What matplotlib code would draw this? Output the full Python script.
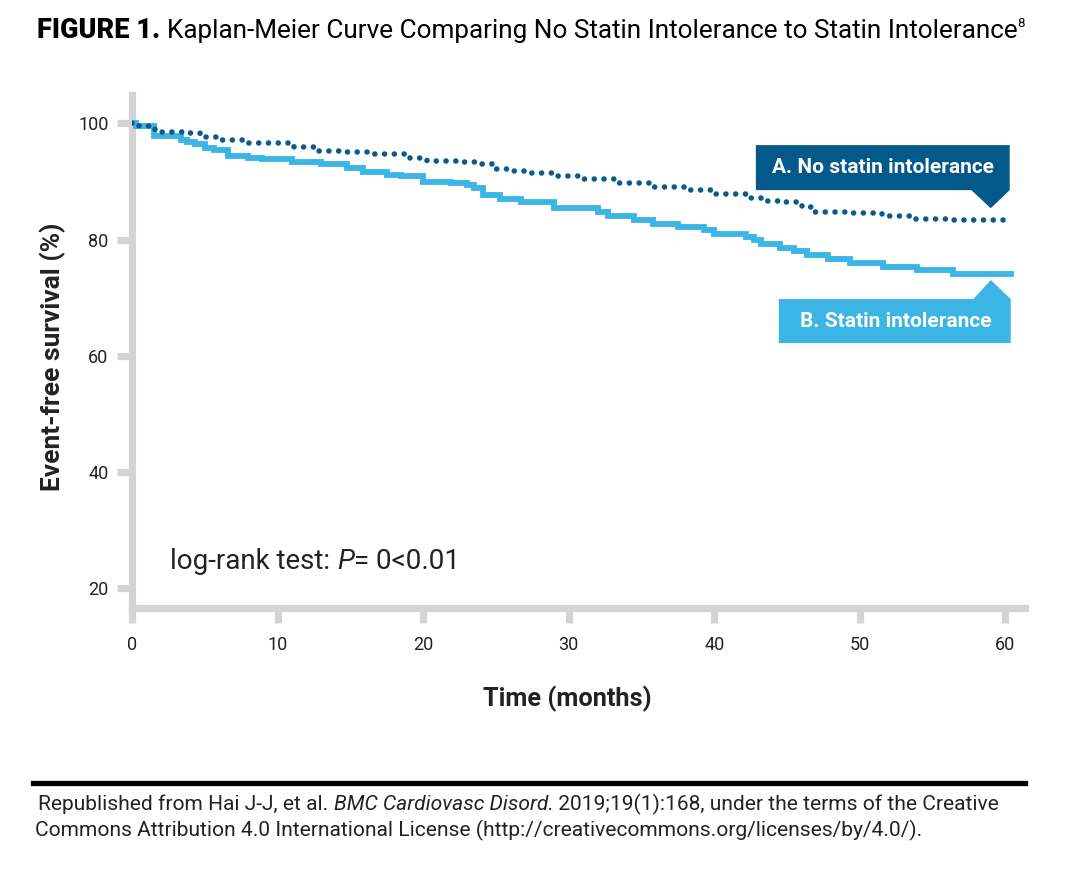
import matplotlib
matplotlib.use("Agg")
import matplotlib.pyplot as plt
from matplotlib.patches import Polygon
import numpy as np

plt.rcParams["font.family"] = ["Roboto", "DejaVu Sans"]

# Curve data (months, event-free survival %)
t_no_intol = [0, 0.5, 1.2, 1.6, 2.9, 3.6, 4.7, 5.9, 8.0, 11.1, 12.8, 14.5, 16.2,
              19.1, 20.3, 22.4, 23.6, 24.8, 26.0, 27.2, 29.0, 30.8, 33.4, 35.6,
              38.2, 40.0, 42.4, 43.2, 44.5, 46.0, 46.8, 49.3, 51.5, 53.5, 56.4, 60.3]
s_no_intol = [100, 99.6, 99.0, 98.6, 98.6, 98.3, 97.6, 97.1, 96.7, 95.9, 95.3, 95.0, 94.8,
              94.1, 93.6, 93.4, 93.1, 92.2, 91.8, 91.4, 90.9, 90.5, 89.8, 89.1,
              88.6, 87.9, 87.2, 86.7, 86.4, 85.6, 84.8, 84.5, 84.0, 83.6, 83.3, 83.3]

t_intol = [0, 0.3, 1.5, 3.4, 3.8, 4.3, 5.0, 5.6, 6.6, 8.0, 8.9, 11.0, 13.0, 14.8,
           15.9, 17.5, 18.5, 20.0, 21.9, 23.0, 23.5, 24.1, 25.3, 26.7, 29.0, 32.0,
           32.7, 34.5, 35.8, 37.5, 39.3, 40.0, 41.6, 42.2, 42.7, 43.2, 44.5, 45.5,
           46.4, 47.8, 49.3, 51.6, 53.9, 56.4, 60.4]
s_intol = [100, 99.5, 97.8, 97.2, 96.8, 96.4, 95.8, 95.5, 94.4, 94.0, 93.8, 93.4, 93.0, 92.4,
           91.6, 91.2, 90.9, 90.0, 89.8, 89.4, 88.9, 87.7, 87.0, 86.4, 85.5, 84.8,
           84.0, 83.4, 82.6, 82.2, 81.7, 81.0, 80.9, 80.5, 80.0, 79.2, 78.6, 78.0,
           77.4, 76.6, 75.9, 75.3, 74.7, 74.1, 74.1]

x_ticks = [0, 10, 20, 30, 40, 50, 60]
y_ticks = [20, 40, 60, 80, 100]

dark_blue = "#0b5a8a"
light_blue = "#3bb4e6"
spine_gray = "#d4d4d4"
text_col = "#222222"

W, H = 1066, 876
fig = plt.figure(figsize=(W / 100, H / 100), dpi=100)
ax = fig.add_axes([132 / W, 1 - 608 / H, (1025 - 132) / W, (608 - 95) / H])

ax.plot(t_intol, s_intol, drawstyle="steps-post", color=light_blue, lw=4.2,
        solid_joinstyle="miter", zorder=3)
ax.plot(t_no_intol, s_no_intol, drawstyle="steps-post", color=dark_blue, lw=4.0,
        linestyle=(0, (0.01, 1.75)), dash_capstyle="round", zorder=4)

ax.set_xlim(0, 61.35)
ax.set_ylim(16.56, 104.9)
for side in ["top", "right"]:
    ax.spines[side].set_visible(False)
for side in ["left", "bottom"]:
    ax.spines[side].set_color(spine_gray)
    ax.spines[side].set_linewidth(5.2)
ax.set_xticks(x_ticks)
ax.set_yticks(y_ticks)
ax.tick_params(axis="both", colors=spine_gray, length=11, width=5.2,
               labelcolor=text_col, labelsize=13)
ax.tick_params(axis="x", pad=9)
ax.tick_params(axis="y", pad=6)

ax.set_xlabel("Time (months)", fontsize=18.3, fontweight="bold", color=text_col)
ax.set_ylabel("Event-free survival (%)", fontsize=19, fontweight="bold", color=text_col)
ax.xaxis.set_label_coords(0.487, -0.151)
ax.yaxis.set_label_coords(-0.074, 0.49)


# callout boxes (box + pointer) in data coordinates
def callout(x0, x1, y_top, y_bot, tip_x, base_x0, base_x1, tip_y, pointer_down, color):
    if pointer_down:
        pts = [(x0, y_top), (x1, y_top), (x1, y_bot), (base_x1, y_bot), (tip_x, tip_y),
               (base_x0, y_bot), (x0, y_bot)]
    else:
        pts = [(x0, y_top), (base_x0, y_top), (tip_x, tip_y), (base_x1, y_top),
               (x1, y_top), (x1, y_bot), (x0, y_bot)]
    ax.add_patch(Polygon(pts, closed=True, facecolor=color, edgecolor="none",
                         clip_on=False, zorder=5))


callout(42.86, 60.3, 96.27, 88.52, 59.0, 57.66, 60.3, 85.4, True, "#03598a")
callout(44.44, 60.37, 69.76, 62.19, 59.0, 57.8, 60.37, 73.03, False, light_blue)
ax.text(51.6, 92.4, "A. No statin intolerance", color="white", fontsize=15,
        fontweight="bold", ha="center", va="center", zorder=6)
ax.text(52.5, 65.9, "B. Statin intolerance", color="white", fontsize=15,
        fontweight="bold", ha="center", va="center", zorder=6)


def run_text(x_px, y_px, pieces, **kw):
    # place text pieces one after the other on a baseline (pixel coords)
    fig.canvas.draw()
    r = fig.canvas.get_renderer()
    x = x_px / W
    for s, extra in pieces:
        opts = dict(kw)
        opts.update(extra)
        yy = opts.pop("y_px", y_px)
        t = fig.text(x, 1 - yy / H, s, ha="left", va="baseline", **opts)
        bb = t.get_window_extent(renderer=r)
        x = bb.x1 / W


# log-rank annotation
run_text(170, 569, [("log-rank test: ", {}), ("P", {"style": "italic"}),
                    ("= 0<0.01", {})], fontsize=20, color=text_col)

# title
run_text(37, 38, [("FIGURE 1. ", {"fontweight": "black", "fontsize": 19.5}),
                  ("Kaplan-Meier Curve Comparing No Statin Intolerance to Statin Intolerance",
                   {"fontsize": 18.8}),
                  ("8", {"fontsize": 9.5, "y_px": 27})], color="black")

# footer rule and source note
fig.add_artist(plt.Line2D([33 / W, 1025 / W], [1 - 783 / H, 1 - 783 / H], color="black",
                          lw=3.8, transform=fig.transFigure))
run_text(38, 810, [("Republished from Hai J-J, et al. ", {}),
                   ("BMC Cardiovasc Disord.", {"style": "italic"}),
                   (" 2019;19(1):168, under the terms of the Creative", {})],
         fontsize=15.1, color=text_col)
run_text(35, 836, [("Commons Attribution 4.0 International License (http://creativecommons.org/licenses/by/4.0/).", {})],
         fontsize=15.1, color=text_col)

fig.savefig("out.png", dpi=100, facecolor="white")
